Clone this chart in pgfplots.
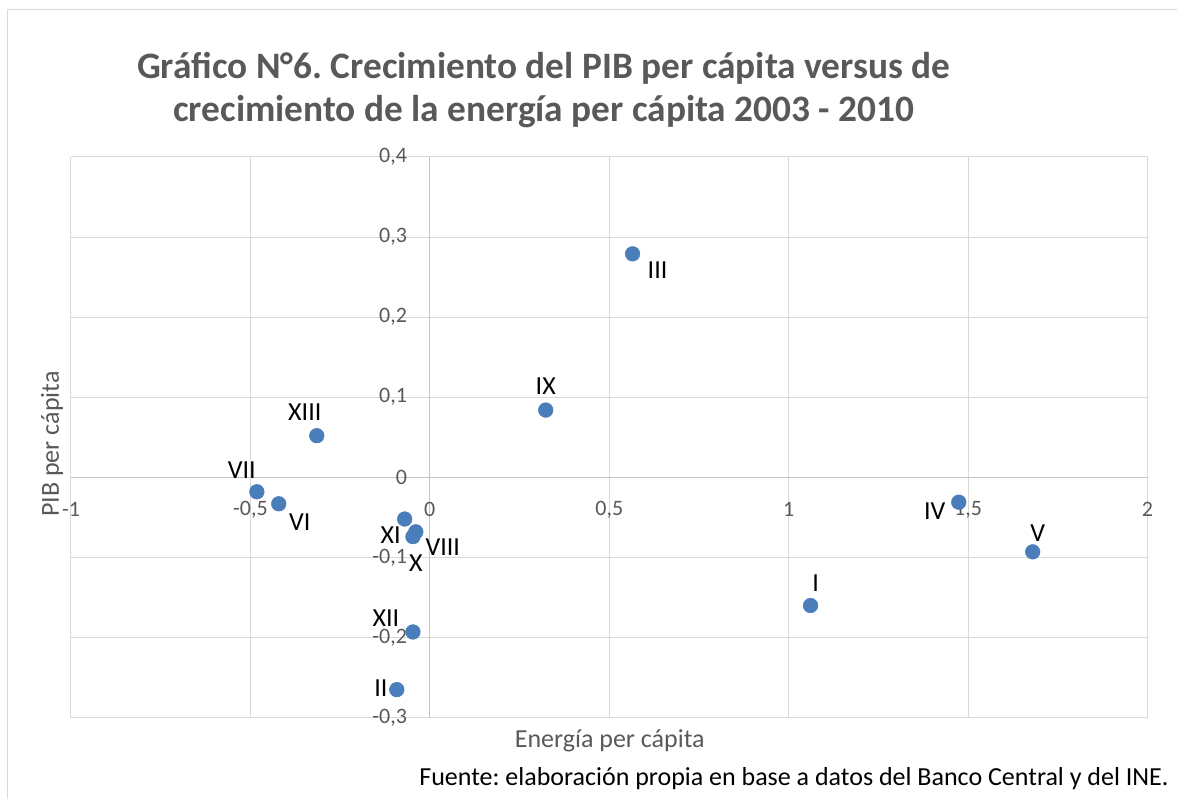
\documentclass[border=0pt]{standalone}
\usepackage{pgfplots}
\pgfplotsset{compat=1.18}
\usepackage{pgfplotstable}
\usepackage{fontspec}
\setmainfont{Carlito}
\frenchspacing
\definecolor{dotblue}{RGB}{74,126,187}
\definecolor{txtgray}{RGB}{89,89,89}
\definecolor{gridgray}{RGB}{217,217,217}
\definecolor{axgray}{RGB}{196,196,196}
\pgfplotstableread{
x y label dx dy
0.565 0.279 III 18.75 -12
0.323 0.084 IX 0 18
-0.315 0.052 XIII -9 18
-0.482 -0.018 VII -11.25 16.5
-0.421 -0.033 VI 15.75 -13.5
-0.070 -0.052 XI -10.5 -12
-0.039 -0.068 VIII 20.25 -11.25
-0.047 -0.074 X 2.25 -20.25
-0.047 -0.193 XII -20.25 10.5
-0.092 -0.265 II -12 0.75
1.061 -0.160 I 3.75 16.5
1.474 -0.031 IV -18 -6.75
1.680 -0.093 V 3.75 14.25
}\datatable
\begin{document}
\begin{tikzpicture}
\path (0,0) rectangle (882.75pt,599.25pt);
\draw[gridgray, line width=0.75pt] (6pt,0) -- (6pt,591.75pt) -- (882.75pt,591.75pt);
\begin{axis}[at={(53.25pt,60.75pt)}, anchor=south west, scale only axis,
  width=807.75pt, height=420.75pt,
  xmin=-1, xmax=2, ymin=-0.3, ymax=0.4,
  axis lines=middle, axis line style={-, draw=axgray, line width=0.75pt},
  grid=major, major grid style={draw=gridgray, line width=0.75pt},
  xtick={-1,-0.5,0,0.5,1,1.5,2},
  xticklabels={-1,{-0,5},0,{0,5},1,{1,5},2},
  ytick={-0.3,-0.2,-0.1,0,0.1,0.2,0.3,0.4},
  yticklabels={{-0,3},{-0,2},{-0,1},0,{0,1},{0,2},{0,3},{0,4}},
  major tick length=0pt,
  hide obscured x ticks=false, hide obscured y ticks=false,
  xticklabel style={anchor=center, inner sep=0pt, yshift=-24pt, font=\fontsize{16.5}{18}\selectfont, text=txtgray},
  yticklabel style={anchor=east, inner sep=0pt, xshift=-17pt, font=\fontsize{16.5}{18}\selectfont, text=txtgray},
  clip=false,
]
\addplot[only marks, mark=*, mark size=5.5pt, mark options={draw=dotblue, fill=dotblue},
  nodes near coords, point meta=explicit symbolic,
  visualization depends on={\thisrow{dx}\as\dx},
  visualization depends on={\thisrow{dy}\as\dy},
  every node near coord/.append style={anchor=center, inner sep=0pt, xshift=\dx pt, yshift=\dy pt, font=\fontsize{19.5}{21}\selectfont, text=black}]
  table[x=x, y=y, meta=label] {\datatable};
\end{axis}
\node[font=\bfseries\fontsize{28}{32}\selectfont, text=txtgray, align=center] at (408pt,531.5pt)
  {Gráfico N°6. Crecimiento del PIB per cápita versus de\\crecimiento de la energía per cápita 2003 - 2010};
\node[font=\fontsize{19.5}{21}\selectfont, text=txtgray] at (457.5pt,43.5pt) {Energía per cápita};
\node[font=\fontsize{19.5}{21}\selectfont, text=txtgray, rotate=90] at (39pt,266pt) {PIB per cápita};
\node[font=\fontsize{19.5}{21}\selectfont, text=black, anchor=east, inner sep=0pt] at (877pt,15pt)
  {Fuente: elaboración propia en base a datos del Banco Central y del INE.};
\end{tikzpicture}
\end{document}
